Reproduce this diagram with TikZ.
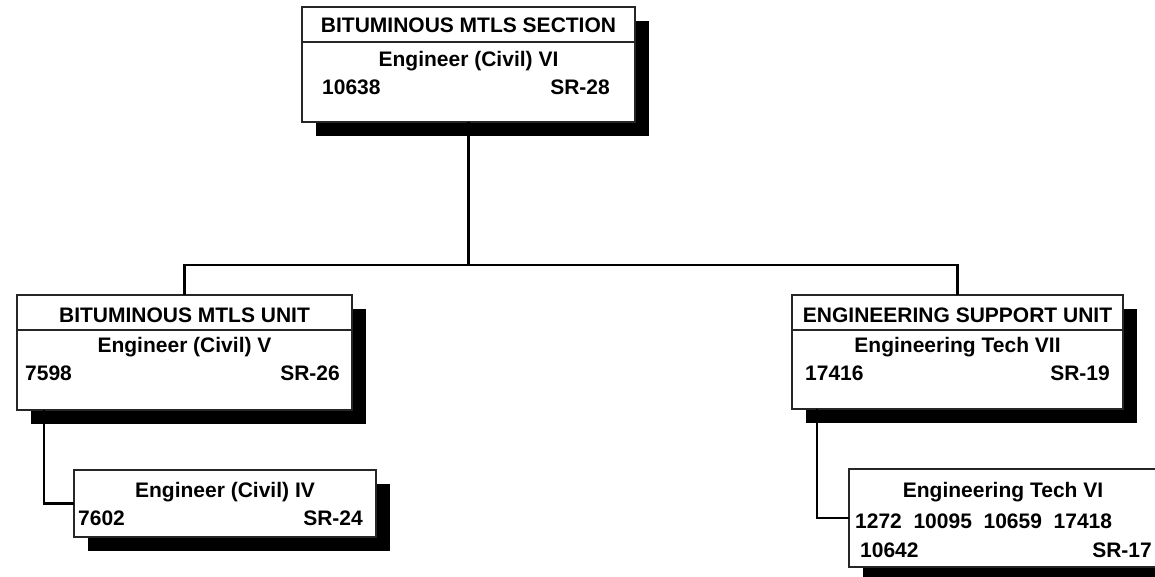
\documentclass[tikz,border=0pt]{standalone}
\usepackage{fontspec}
\setmainfont{Liberation Sans}
\usetikzlibrary{shadows}

\begin{document}
\begin{tikzpicture}[x=1pt, y=-1pt,
  box/.style={draw=black!85, line width=1.8pt, fill=white, inner sep=0pt, outer sep=0pt,
              drop shadow={shadow xshift=14pt, shadow yshift=-14pt, fill=black, opacity=1}},
  sep/.style={draw=black!85, line width=1.8pt},
  conn/.style={line width=2.2pt},
  txt/.style={inner sep=0pt, font=\bfseries\fontsize{21}{25}\selectfont},
  title/.style={txt, anchor=base},
  num/.style={txt, anchor=base west},
  grade/.style={txt, anchor=base east}
]
\clip (0,0) rectangle (1155,577);
\fill[white] (0,0) rectangle (1155,577);

\node[box, minimum width=333pt, minimum height=115pt] (sec) at (468.5,64.5) {};
\node[box, minimum width=335pt, minimum height=115pt] (bmu) at (184.5,352.5) {};
\node[box, minimum width=331pt, minimum height=114pt] (esu) at (957.5,352) {};
\node[box, minimum width=302pt, minimum height=67pt] (civ4) at (225,503.5) {};
\node[box, minimum width=308pt, minimum height=98pt] (tech6) at (1003,518) {};

\draw[sep] ([shift={(0,35)}]sec.north west) -- ([shift={(0,35)}]sec.north east);
\draw[sep] ([shift={(0,35)}]bmu.north west) -- ([shift={(0,35)}]bmu.north east);
\draw[sep] ([shift={(0,35)}]esu.north west) -- ([shift={(0,35)}]esu.north east);

\node[title] (sec-title) at ([shift={(0,26)}]sec.north) {BITUMINOUS MTLS SECTION};
\node[title] (sec-job) at ([shift={(0,60)}]sec.north) {Engineer (Civil) VI};
\node[num] (sec-num) at ([shift={(20,88)}]sec.north west) {10638};
\node[grade] (sec-grade) at ([shift={(-25,88)}]sec.north east) {SR-28};

\node[title] (bmu-title) at ([shift={(0,27)}]bmu.north) {BITUMINOUS MTLS UNIT};
\node[title] (bmu-job) at ([shift={(0,57)}]bmu.north) {Engineer (Civil) V};
\node[num] (bmu-num) at ([shift={(8,85)}]bmu.north west) {7598};
\node[grade] (bmu-grade) at ([shift={(-12,85)}]bmu.north east) {SR-26};

\node[title] (esu-title) at ([shift={(0,27)}]esu.north) {ENGINEERING SUPPORT UNIT};
\node[title] (esu-job) at ([shift={(0,57)}]esu.north) {Engineering Tech VII};
\node[num] (esu-num) at ([shift={(13,85)}]esu.north west) {17416};
\node[grade] (esu-grade) at ([shift={(-13,85)}]esu.north east) {SR-19};

\node[title] (civ4-job) at ([shift={(0,27)}]civ4.north) {Engineer (Civil) IV};
\node[num] (civ4-num) at ([shift={(4,55)}]civ4.north west) {7602};
\node[grade] (civ4-grade) at ([shift={(-13,55)}]civ4.north east) {SR-24};

\node[title] (tech6-job) at ([shift={(0,28)}]tech6.north) {Engineering Tech VI};
\node[num] (tech6-nums) at ([shift={(6,59)}]tech6.north west) {1272\ \ 10095\ \ 10659\ \ 17418};
\node[num] (tech6-num) at ([shift={(11,88)}]tech6.north west) {10642};
\node[grade] (tech6-grade) at ([shift={(-5,88)}]tech6.north east) {SR-17};

\coordinate (bus) at ([shift={(0,143)}]sec.south);
\draw[conn] (sec.south) -- (bus);
\draw[conn] (bmu.north) |- (bus) -| (esu.north);
\draw[conn] ([shift={(27,0)}]bmu.south west) |- (civ4.west);
\draw[conn] ([shift={(25,0)}]esu.south west) |- (tech6.west);
\end{tikzpicture}
\end{document}
